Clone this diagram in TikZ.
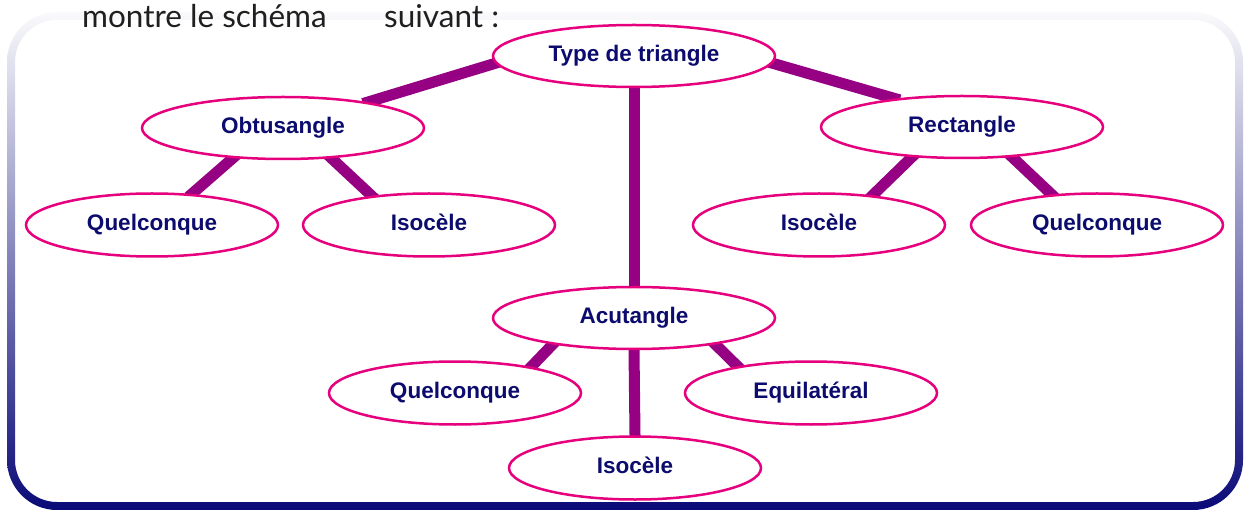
\documentclass[tikz,border=0pt]{standalone}
\usepackage{fontspec}
\setmainfont{Liberation Sans}
\newfontfamily\headfont{Lato}
\usetikzlibrary{shapes.geometric,backgrounds}
\definecolor{navytext}{RGB}{12,12,110}
\definecolor{pinkline}{RGB}{230,0,126}
\definecolor{purpleline}{RGB}{150,0,130}
\definecolor{framebot}{RGB}{10,10,120}
\definecolor{frametop}{RGB}{250,250,252}
\begin{document}
\begin{tikzpicture}[x=1pt,y=-1pt,
  oval/.style={ellipse, draw=pinkline, line width=2.5pt, fill=white, inner sep=0pt,
    font=\fontsize{22.5}{26}\selectfont\bfseries, text=navytext, text height=16pt, text depth=5pt},
  big/.style={oval, minimum width=282pt, minimum height=62pt},
  small/.style={oval, minimum width=252pt, minimum height=63pt},
  link/.style={line width=11pt, draw=purpleline, shorten <=-5pt, shorten >=-5pt},
  headtext/.style={anchor=base west, inner sep=0pt, text=black!88, font=\headfont\fontsize{31.5}{36}\selectfont}]
\useasboundingbox (0,0) rectangle (1244,510);

\node[headtext] (head1) at (82,28) {montre le schéma};
\node[headtext] (head2) at (384,28) {suivant :};

\node[big] (type) at (634,56) {Type de triangle};
\node[big] (obt) at (283,128) {Obtusangle};
\node[big] (rect) at (962,127) {Rectangle};
\node[big] (acu) at (634,318) {Acutangle};
\node[small] (quelL) at (152,225) {Quelconque};
\node[small] (isoL) at (429,225) {Isocèle};
\node[small] (isoR) at (819,225) {Isocèle};
\node[small] (quelR) at (1097,225) {Quelconque};
\node[small] (quelM) at (455,393) {Quelconque};
\node[small] (equi) at (811,393) {Equilatéral};
\node[small] (isoB) at (635,468) {Isocèle};

\begin{scope}[on background layer]
  \shade[top color=frametop, bottom color=framebot, even odd rule, rounded corners=50pt]
    (7,12) rectangle (1243,510)
    {[rounded corners=42pt] (15,20) rectangle (1235,502)};
  \draw[link] (type.183) -- (obt.17);
  \draw[link] (type.357) -- (rect.157);
  \draw[link] (type.270) -- (acu.90);
  \draw[link] (obt.211) -- (quelL.38);
  \draw[link] (obt.328) -- (isoL.153);
  \draw[link] (rect.211) -- (isoR.29);
  \draw[link] (rect.329) -- (quelR.146);
  \draw[link] (acu.198) -- (quelM.19);
  \draw[link] (acu.342) -- (equi.160);
  \draw[link] (acu.270) -- (isoB.90);
\end{scope}
\end{tikzpicture}
\end{document}
